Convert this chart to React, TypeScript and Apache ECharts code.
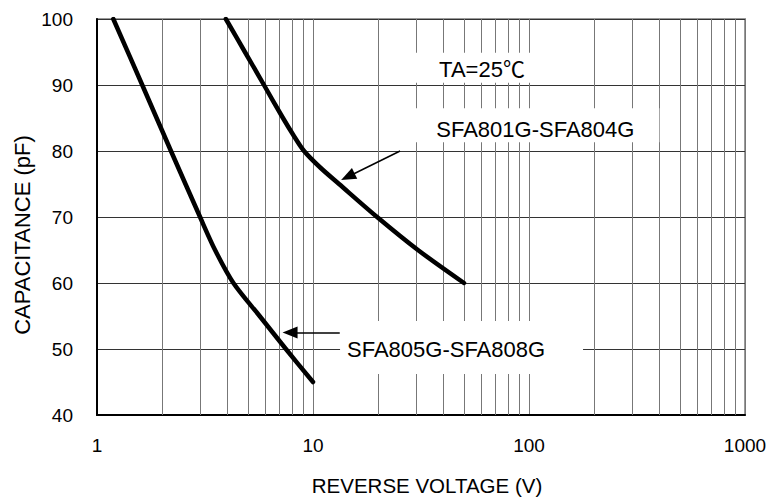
import React, { useEffect, useRef } from "react";
import * as echarts from "echarts";

// SFA805G-SFA808G
const voltsA = [1.19, 1.62, 2.2, 3.0, 3.52, 4.28, 5.66, 7.49, 10];
const capA = [100, 90, 80, 70, 65, 60, 55, 50, 45];
// SFA801G-SFA804G
const voltsB = [3.95, 4.84, 5.93, 7.26, 8.08, 9.09, 10.8, 13.2, 19.8, 30.6, 50];
const capB = [100, 95, 90, 85, 82.5, 80, 77.5, 75, 70, 65, 60];

const xTickLabels = [1, 10, 100, 1000];
const yTickLabels = [40, 50, 60, 70, 80, 90, 100];
const minorVolts = [2, 3, 4, 5, 6, 7, 8, 9, 20, 30, 40, 50, 60, 70, 80, 90, 200, 300, 400, 500, 600, 700, 800, 900];

const noteTexts = ["TA=25℃", "SFA801G-SFA804G", "SFA805G-SFA808G"];
const noteVolts = [60.6, 107, 41.3];
const noteCaps = [92.3, 83.3, 50];

// arrows: from (V, pF) -> to (V, pF)
const arrowFromVolts = [25.3, 13.3];
const arrowFromCaps = [80, 52.5];
const arrowToVolts = [14.5, 7.83];
const arrowToCaps = [76.1, 52.5];

const FONT = "'Liberation Sans', Arial, Helvetica, 'Noto Sans CJK SC', sans-serif";

export default function App() {
  const ref = useRef<HTMLDivElement>(null);
  useEffect(() => {
    const chart = echarts.init(ref.current!, null, { renderer: "svg" });
    const dataA = voltsA.map((v, i) => [v, capA[i]]);
    const dataB = voltsB.map((v, i) => [v, capB[i]]);
    chart.setOption({
      animation: false,
      grid: {
        left: 97,
        right: 26,
        top: 19,
        bottom: 86,
        show: true,
        borderColor: "#9a9a9a",
        borderWidth: 2,
        backgroundColor: "#fff",
      },
      xAxis: {
        type: "log",
        logBase: 10,
        min: xTickLabels[0],
        max: xTickLabels[xTickLabels.length - 1],
        axisLine: { show: true, onZero: false, lineStyle: { color: "#000", width: 2 } },
        axisTick: { show: false },
        axisLabel: {
          fontSize: 19,
          color: "#000",
          fontFamily: FONT,
          margin: 21,
          formatter: (v: number) => {
            const m = xTickLabels.find((t) => Math.abs(t - v) / t < 1e-6);
            return m !== undefined ? String(m) : "";
          },
        },
        splitLine: { show: true, lineStyle: { color: "#777", width: 1 } },
      },
      yAxis: {
        type: "value",
        min: yTickLabels[0],
        max: yTickLabels[yTickLabels.length - 1],
        interval: 10,
        axisLine: { show: true, onZero: false, lineStyle: { color: "#000", width: 2 } },
        axisTick: { show: false },
        axisLabel: { fontSize: 19, color: "#000", fontFamily: FONT, margin: 24 },
        splitLine: { show: true, lineStyle: { color: "#333", width: 1 } },
      },
      series: [
        {
          type: "line",
          data: dataA,
          z: 1,
          silent: true,
          showSymbol: false,
          lineStyle: { opacity: 0 },
          markLine: {
            silent: true,
            symbol: "none",
            label: { show: false },
            lineStyle: { color: "#777", width: 1, type: "solid" },
            data: minorVolts.map((v) => ({ xAxis: v })),
          },
        },
        {
          type: "line",
          name: noteTexts[2],
          data: dataA,
          z: 5,
          smooth: 0.3,
          showSymbol: false,
          lineStyle: { color: "#000", width: 4.5, cap: "round", join: "round" },
        },
        {
          type: "line",
          name: noteTexts[1],
          data: dataB,
          z: 5,
          smooth: 0.3,
          showSymbol: false,
          lineStyle: { color: "#000", width: 4.5, cap: "round", join: "round" },
          markLine: {
            silent: true,
            symbol: ["none", "triangle"],
            symbolSize: [12, 15],
            label: { show: false },
            lineStyle: { color: "#000", width: 1.5, type: "solid" },
            itemStyle: { color: "#000" },
            data: arrowFromVolts.map((v, i) => [
              { coord: [v, arrowFromCaps[i]] },
              { coord: [arrowToVolts[i], arrowToCaps[i]] },
            ]),
          },
        },
      ],
    });

    const px = (v: number, c: number) =>
      chart.convertToPixel({ gridIndex: 0 }, [v, c]) as number[];

    // white box around each note centre (pixels): left, right, top, bottom
    const boxes = [
      [-67, 52, -17, 13],
      [-120, 124, -21, 13],
      [-106, 137, -28, 25],
    ];
    const graphic: any[] = [];
    noteTexts.forEach((t, i) => {
      const [cx, cy] = px(noteVolts[i], noteCaps[i]);
      const b = boxes[i];
      graphic.push({
        type: "rect",
        z: 90,
        shape: { x: cx + b[0], y: cy + b[2], width: b[1] - b[0], height: b[3] - b[2] },
        style: { fill: "#fff" },
        silent: true,
      });
      graphic.push({
        type: "text",
        z: 100,
        x: cx,
        y: cy,
        style: {
          text: t,
          fill: "#000",
          font: `22px ${FONT}`,
          align: "center",
          verticalAlign: "middle",
        },
        silent: true,
      });
    });
    graphic.push({
      type: "text",
      z: 100,
      x: 427,
      y: 485,
      style: {
        text: "REVERSE VOLTAGE (V)",
        fill: "#000",
        font: `20.5px ${FONT}`,
        align: "center",
        verticalAlign: "middle",
      },
    });
    graphic.push({
      type: "text",
      z: 100,
      x: 22,
      y: 235,
      rotation: Math.PI / 2,
      style: {
        text: "CAPACITANCE (pF)",
        fill: "#000",
        font: `22px ${FONT}`,
        align: "center",
        verticalAlign: "middle",
      },
    });
    chart.setOption({ graphic });

    return () => chart.dispose();
  }, []);
  return (
    <div
      ref={ref}
      style={{ position: "fixed", left: 0, top: 0, width: 771, height: 501, background: "#fff" }}
    />
  );
}
